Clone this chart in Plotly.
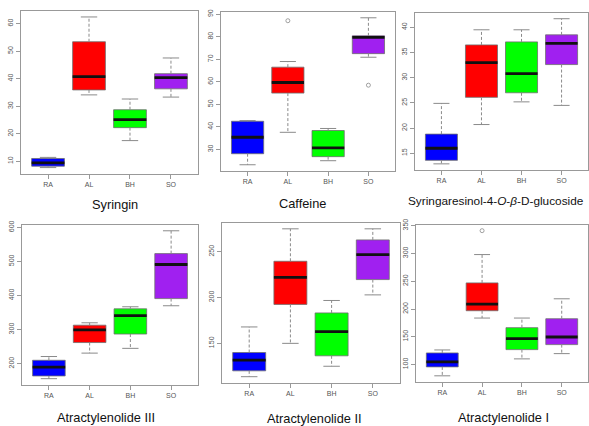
import plotly.graph_objects as go

W, H = 589, 426

categories = ["RA", "AL", "BH", "SO"]
colors = ["#0000FF", "#FF0000", "#00FF00", "#A020F0"]

# Syringin
syringin_lo = [7.7, 34.1, 17.5, 33.3]
syringin_q1 = [8.2, 35.9, 22.2, 36.3]
syringin_med = [9.4, 40.7, 25.1, 40.4]
syringin_q3 = [11.0, 53.4, 28.7, 41.8]
syringin_hi = [11.4, 62.4, 32.6, 47.5]
syringin_out = [[], [], [], []]

# Caffeine
caffeine_lo = [23.2, 37.6, 25.0, 70.9]
caffeine_q1 = [28.1, 55.0, 26.8, 72.5]
caffeine_med = [35.4, 59.7, 30.7, 79.7]
caffeine_q3 = [42.5, 66.5, 38.4, 80.4]
caffeine_hi = [42.8, 69.0, 39.3, 88.4]
caffeine_out = [[], [87.1], [], [58.5]]

# Syringaresinol-4-O-beta-D-glucoside
syr_glc_lo = [12.9, 20.7, 25.2, 24.5]
syr_glc_q1 = [13.6, 26.1, 27.0, 32.6]
syr_glc_med = [16.0, 33.0, 30.8, 36.8]
syr_glc_q3 = [18.8, 36.5, 37.1, 38.5]
syr_glc_hi = [24.9, 39.5, 39.5, 41.7]
syr_glc_out = [[], [], [], []]

# Atractylenolide III
atr3_lo = [156, 231, 245, 370]
atr3_q1 = [164, 262, 287, 391]
atr3_med = [190, 299, 341, 491]
atr3_q3 = [210, 313, 361, 523]
atr3_hi = [221, 320, 367, 590]
atr3_out = [[], [], [], []]

# Atractylenolide II
atr2_lo = [113.6, 150, 125, 202.9]
atr2_q1 = [120, 192.5, 136.4, 219.6]
atr2_med = [131.8, 222.1, 162.9, 246.8]
atr2_q3 = [140, 239.6, 183.2, 262.9]
atr2_hi = [167.9, 275, 196.8, 275]
atr2_out = [[], [], [], []]

# Atractylenolide I
atr1_lo = [79.7, 183.7, 110.2, 119.7]
atr1_q1 = [95.8, 196.9, 126.9, 135.9]
atr1_med = [104.8, 208.9, 146.7, 149.6]
atr1_q3 = [120.9, 247, 166.4, 182.5]
atr1_hi = [126.3, 298, 183.7, 218.4]
atr1_out = [[], [341], [], []]

titles = ["Syringin", "Caffeine", "Syringaresinol-4-<i>O</i>-<i>β</i>-D-glucoside",
          "Atractylenolide III", "Atractylenolide II", "Atractylenolide I"]
yticks = [10, 10, 5, 100, 50, 50]

panels = [
    (syringin_lo, syringin_q1, syringin_med, syringin_q3, syringin_hi, syringin_out),
    (caffeine_lo, caffeine_q1, caffeine_med, caffeine_q3, caffeine_hi, caffeine_out),
    (syr_glc_lo, syr_glc_q1, syr_glc_med, syr_glc_q3, syr_glc_hi, syr_glc_out),
    (atr3_lo, atr3_q1, atr3_med, atr3_q3, atr3_hi, atr3_out),
    (atr2_lo, atr2_q1, atr2_med, atr2_q3, atr2_hi, atr2_out),
    (atr1_lo, atr1_q1, atr1_med, atr1_q3, atr1_hi, atr1_out),
]

# frame pixel boxes (left, top, right, bottom)
frames = [
    (21, 5, 198, 170),
    (221, 6, 395, 167),
    (415, 7, 588, 166),
    (22, 222, 198, 384),
    (222, 220, 400, 382),
    (416, 222, 588, 381),
]
title_x = [115, 302, 496, 106, 314, 503]
title_y = [201, 200, 198, 417, 418, 417]
title_size = [12.8, 12.8, 11.8, 12.8, 12.8, 12.8]

fig = go.Figure()
layout = dict(
    width=W, height=H, margin=dict(l=0, r=0, t=0, b=0),
    paper_bgcolor="white", plot_bgcolor="white", showlegend=False,
    annotations=[],
)

xpos = [1, 2, 3, 4]
BOXW = 0.8
GRAY = "#8a8a8a"
for p, (lo, q1, med, q3, hi, out) in enumerate(panels):
    xa = "x" if p == 0 else f"x{p+1}"
    ya = "y" if p == 0 else f"y{p+1}"
    # dashed whiskers
    wx, wy, sx, sy = [], [], [], []
    for i in range(4):
        wx += [xpos[i], xpos[i], None, xpos[i], xpos[i], None]
        wy += [q3[i], hi[i], None, q1[i], lo[i], None]
        sx += [xpos[i] - BOXW / 4, xpos[i] + BOXW / 4, None,
               xpos[i] - BOXW / 4, xpos[i] + BOXW / 4, None]
        sy += [hi[i], hi[i], None, lo[i], lo[i], None]
    fig.add_trace(go.Scatter(x=wx, y=wy, mode="lines",
                             line=dict(color=GRAY, width=1, dash="3px,2px"),
                             xaxis=xa, yaxis=ya, hoverinfo="skip"))
    fig.add_trace(go.Scatter(x=sx, y=sy, mode="lines",
                             line=dict(color=GRAY, width=1),
                             xaxis=xa, yaxis=ya, hoverinfo="skip"))
    for i in range(4):
        fig.add_trace(go.Box(
            x=[xpos[i]], q1=[q1[i]], median=[med[i]], q3=[q3[i]],
            lowerfence=[q1[i]], upperfence=[q3[i]],
            width=BOXW, whiskerwidth=0,
            fillcolor=colors[i], line=dict(color="#6f6f6f", width=0.8),
            boxpoints=False, xaxis=xa, yaxis=ya, hoverinfo="skip",
        ))
    # medians
    mx, my = [], []
    for i in range(4):
        mx += [xpos[i] - BOXW / 2, xpos[i] + BOXW / 2, None]
        my += [med[i], med[i], None]
    fig.add_trace(go.Scatter(x=mx, y=my, mode="lines",
                             line=dict(color="#111111", width=2.8),
                             xaxis=xa, yaxis=ya, hoverinfo="skip"))
    # outliers
    ox, oy = [], []
    for i in range(4):
        for v in out[i]:
            ox.append(xpos[i])
            oy.append(v)
    if ox:
        fig.add_trace(go.Scatter(x=ox, y=oy, mode="markers",
                                 marker=dict(symbol="circle-open", size=4,
                                             color=GRAY, line=dict(width=0.8)),
                                 xaxis=xa, yaxis=ya, hoverinfo="skip"))

    allv = lo + hi + [v for o in out for v in o]
    vmin, vmax = min(allv), max(allv)
    pad = 0.04 * (vmax - vmin)
    l, t, r, b = frames[p]
    xd = [l / W, r / W]
    yd = [1 - b / H, 1 - t / H]
    kx = "xaxis" if p == 0 else f"xaxis{p+1}"
    ky = "yaxis" if p == 0 else f"yaxis{p+1}"
    layout[kx] = dict(
        domain=xd, anchor=ya, range=[0.34, 4.66],
        tickvals=xpos, ticktext=categories,
        showgrid=False, zeroline=False,
        showline=True, mirror=True, linecolor="#999999", linewidth=1,
        ticks="outside", ticklen=4, tickcolor="#999999",
        tickfont=dict(size=7, color="#555555", family="Liberation Sans"),
        fixedrange=True,
    )
    layout[ky] = dict(
        domain=yd, anchor=xa, range=[vmin - pad, vmax + pad],
        dtick=yticks[p], tick0=0,
        showgrid=False, zeroline=False,
        showline=True, mirror=True, linecolor="#999999", linewidth=1,
        ticks="outside", ticklen=4, tickcolor="#999999", tickangle=-90,
        tickfont=dict(size=7, color="#555555", family="Liberation Sans"),
        fixedrange=True,
    )
    layout["annotations"].append(dict(
        text=titles[p], xref="paper", yref="paper",
        x=title_x[p] / W, y=1 - title_y[p] / H,
        xanchor="center", yanchor="middle", showarrow=False,
        font=dict(size=title_size[p], color="#111111",
                  family="Liberation Sans, Arial, sans-serif"),
    ))

fig.update_layout(**layout)
fig.write_html(
    "out.html",
    config={"displayModeBar": False, "staticPlot": True},
    post_script="document.body.style.margin='0';document.body.style.overflow='hidden';",
)
